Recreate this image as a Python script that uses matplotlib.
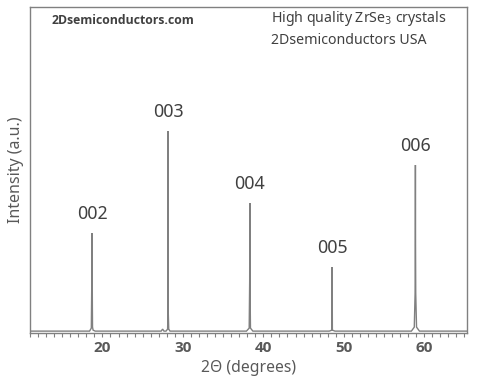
import matplotlib
matplotlib.use("Agg")
import matplotlib.pyplot as plt
from matplotlib.ticker import MultipleLocator

plt.rcParams['font.family'] = ['Noto Sans', 'DejaVu Sans']
BOLD = ['Open Sans', 'DejaVu Sans']

# Digitised XRD pattern (2-theta in degrees, intensity in arbitrary units)
two_theta = [11.0, 15.0, 18.4, 18.62, 18.69, 18.71, 18.73, 18.75, 18.77, 18.84, 19.1,
             22.0, 27.3, 27.48, 27.65, 27.9, 28.10, 28.155, 28.17, 28.185, 28.24, 28.4,
             33.0, 37.9, 38.24, 38.30, 38.32, 38.34, 38.40, 38.7, 43.0,
             48.2, 48.52, 48.55, 48.58, 48.9, 53.0, 58.4, 58.76, 58.86, 58.885, 58.90,
             58.915, 58.94, 59.04, 59.4, 62.0, 65.3]
intensity = [2, 2, 2, 5, 62, 100, 62, 28, 6, 3, 2,
             2, 2, 4, 2, 2, 4, 22, 202, 20, 4, 2,
             2, 2, 5, 52, 130, 50, 5, 2, 2,
             2, 3, 66, 3, 2, 2, 2, 6, 40, 92, 168, 88, 40, 6, 2, 2, 2]

peak_labels = ["002", "003", "004", "005", "006"]
label_pos = [18.73, 28.17, 38.32, 48.55, 58.90]
label_height = [100, 202, 130, 66, 168]

xticks = [20, 30, 40, 50, 60]

fig = plt.figure(figsize=(4.92, 3.86), dpi=100)
ax = fig.add_axes([0.061, 0.137, 0.888, 0.845])

ax.plot(two_theta, intensity, color="#808080", lw=1.0, solid_joinstyle="miter")

ax.set_xlim(11.0, 65.3)
ax.set_ylim(0, 326)
ax.set_xticks(xticks)
ax.set_xticklabels([str(t) for t in xticks], fontweight="bold", color="#595959",
                   fontsize=11, family=BOLD)
ax.xaxis.set_minor_locator(MultipleLocator(1))
ax.tick_params(axis="x", which="both", direction="out", length=3, width=0.8, color="#808080", pad=3)
ax.set_yticks([])
for s in ax.spines.values():
    s.set_color("#808080")
    s.set_linewidth(1.0)

ax.set_xlabel("2\u0398 (degrees)", color="#595959", fontsize=11.3, labelpad=3.5)
ax.set_ylabel("Intensity (a.u.)", color="#595959", fontsize=11.5, labelpad=4)

for lab, xp, h in zip(peak_labels, label_pos, label_height):
    ax.annotate(lab, (xp, h), xytext=(0, 7.5), textcoords="offset points",
                ha="center", va="bottom", fontsize=12.8, color="#404040")

fig.text(52 / 492, 1 - 20 / 386, "2Dsemiconductors.com", fontsize=8.8, fontweight="bold",
         color="#404040", ha="left", va="center", family=BOLD)
fig.text(271 / 492, 1 - 18 / 386, "High quality ZrSe$_3$ crystals", fontsize=10.2,
         color="#404040", ha="left", va="center")
fig.text(271 / 492, 1 - 41 / 386, "2Dsemiconductors USA", fontsize=10.2,
         color="#404040", ha="left", va="center")

fig.savefig("out.png", dpi=100)
